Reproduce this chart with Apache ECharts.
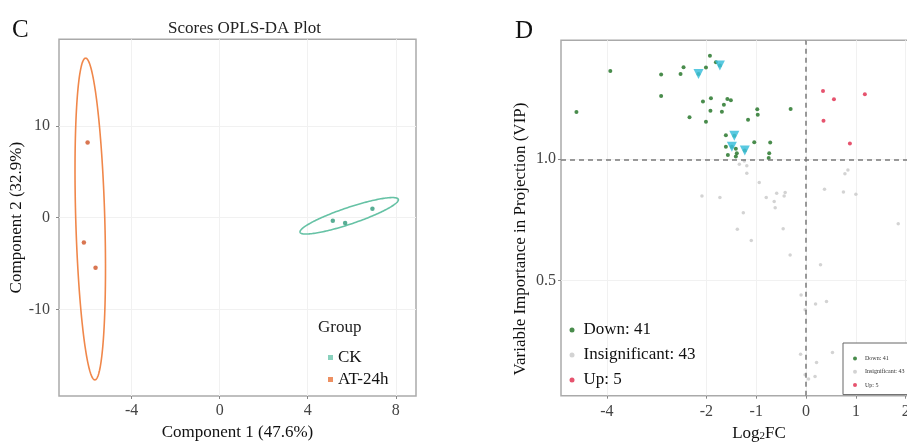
<!DOCTYPE html>
<html><head><meta charset="utf-8">
<script src="https://cdn.jsdelivr.net/npm/echarts@6/dist/echarts.min.js"></script>
<style>html,body{margin:0;padding:0;background:#fff}#c{width:907px;height:443px}</style>
</head><body><div id="c"></div>
<script>
// ---------- Panel C: Scores OPLS-DA ----------
const ckX = [5.14, 5.70, 6.94];
const ckY = [-0.33, -0.58, 0.98];
const atX = [-6.00, -6.17, -5.64];
const atY = [8.2, -2.7, -5.46];
// confidence ellipses: centre (x,y), conjugate semi-axis A (x,y), conjugate semi-axis B (x,y)
const ckEllipse = [5.885, 0.2, 2.235, 1.75, 0, 0.95];
const atEllipse = [-5.88, -0.15, -0.21, 17.55, 0.66, 0];
const cXTicks = [-4, 0, 4, 8];
const cYTicks = [-10, 0, 10];

// ---------- Panel D: VIP vs Log2FC ----------
const downX = [-4.61,-3.93,-2.91,-2.91,-2.52,-2.46,-2.01,-1.93,-1.81,-2.34,-2.07,-1.91,-1.92,-2.01,-1.65,-1.69,-1.58,-1.51,-1.165,-0.98,-0.97,-1.61,-1.04,-0.72,-1.61,-1.57,-1.41,-1.39,-1.41,-0.74,-0.75,-0.31,-2.16,-1.73,-1.44,-1.49,-1.23];
const downY = [1.195,1.364,1.349,1.261,1.351,1.379,1.378,1.426,1.400,1.173,1.238,1.251,1.200,1.154,1.224,1.196,1.248,1.243,1.163,1.206,1.183,1.099,1.070,1.069,1.051,1.018,1.043,1.025,1.011,1.025,1.005,1.207,1.351,1.386,1.097,1.052,1.036];
const insigX = [-1.34,-1.24,-1.19,-1.19,-0.94,-2.09,-1.73,-0.80,-0.59,-0.42,-0.44,-0.64,-0.62,-1.26,-1.38,-1.10,-0.46,-0.32,0.29,-0.10,0.19,0.41,-0.02,0.53,-0.11,0.21,-0.02,0.05,0.18,0.37,0.75,1.00,0.78,0.84,1.85];
const insigY = [0.979,0.993,0.973,0.942,0.904,0.849,0.842,0.842,0.860,0.863,0.849,0.826,0.800,0.780,0.712,0.665,0.714,0.606,0.565,0.441,0.404,0.414,0.380,0.204,0.197,0.163,0.112,0.095,0.105,0.876,0.865,0.856,0.940,0.956,0.734];
const upX = [0.34, 0.56, 1.18, 0.35, 0.88];
const upY = [1.281, 1.247, 1.268, 1.159, 1.065];
const markedX = [-2.16, -1.73, -1.44, -1.49, -1.23];
const markedY = [1.351, 1.386, 1.097, 1.052, 1.036];
const groupCounts = {Down: 41, Insignificant: 43, Up: 5};
const dXTicks = [-4, -2, -1, 0, 1, 2];
const dYTicks = [0.5, 1.0];
const fcThreshold = 0, vipThreshold = 1.0;

const zip = (xs, ys) => xs.map((x, i) => [x, ys[i]]);
const SERIF = '"Liberation Serif", "Times New Roman", serif';

function ellipseRenderer(color) {
  return function (params, api) {
    const cx = api.value(0), cy = api.value(1), ax = api.value(2), ay = api.value(3), bx = api.value(4), by = api.value(5);
    const pts = [];
    for (let i = 0; i <= 180; i++) {
      const t = i / 180 * 2 * Math.PI;
      pts.push(api.coord([cx + ax * Math.cos(t) + bx * Math.sin(t), cy + ay * Math.cos(t) + by * Math.sin(t)]));
    }
    return {type: 'polyline', shape: {points: pts}, style: {fill: 'none', stroke: color, lineWidth: 1.6}};
  };
}

const tickLabel = {fontFamily: SERIF, fontSize: 16, color: '#444'};
const nameStyle = {fontFamily: SERIF, fontSize: 17, color: '#111'};
const gridLine = {show: true, lineStyle: {color: '#f1f1f1', width: 1}};
const noLine = {show: false, onZero: false};

const chart = echarts.init(document.getElementById('c'), null, {renderer: 'canvas'});
chart.setOption({
  backgroundColor: '#fff',
  animation: false,
  graphic: [
    {type: 'text', left: 12, top: 18, style: {text: 'C', font: '25px ' + SERIF, fill: '#111'}},
    {type: 'text', left: 515, top: 19, style: {text: 'D', font: '25px ' + SERIF, fill: '#111'}},
    {type: 'text', left: 318, top: 319, style: {text: 'Group', font: '17px ' + SERIF, fill: '#222'}}
  ],
  title: [{
    text: 'Scores OPLS-DA Plot', left: 239.5, top: 15, textAlign: 'center',
    textStyle: {fontFamily: SERIF, fontSize: 17, fontWeight: 'normal', color: '#222'}
  }],
  grid: [
    {left: 59, top: 39.3, width: 357, height: 356.7, show: true, borderColor: '#aaa', borderWidth: 1.5, backgroundColor: 'transparent', outerBoundsMode: 'none', containLabel: false},
    {left: 561, top: 40.3, width: 396, height: 355.4, show: true, borderColor: '#aaa', borderWidth: 1.5, backgroundColor: 'transparent', outerBoundsMode: 'none', containLabel: false}
  ],
  xAxis: [
    {gridIndex: 0, type: 'value', min: -7.3, max: 8.92,
     name: 'Component 1 (47.6%)', nameLocation: 'middle', nameGap: 27, nameTextStyle: nameStyle,
     axisLine: noLine,
     axisTick: {show: true, length: 3, customValues: cXTicks, lineStyle: {color: '#888'}},
     axisLabel: {customValues: cXTicks, margin: 7, ...tickLabel},
     splitLine: gridLine},
    {gridIndex: 1, type: 'value', min: -4.92, max: 3.03,
     name: '{a|Log}{s|2}{a|FC}', nameLocation: 'middle', nameGap: 27,
     nameTextStyle: {rich: {a: {fontFamily: SERIF, fontSize: 17, color: '#111'}, s: {fontFamily: SERIF, fontSize: 11, color: '#111', verticalAlign: 'bottom', lineHeight: 11}}},
     axisLine: noLine,
     axisTick: {show: true, length: 3, customValues: dXTicks, lineStyle: {color: '#888'}},
     axisLabel: {customValues: dXTicks, margin: 8, ...tickLabel},
     splitLine: gridLine}
  ],
  yAxis: [
    {gridIndex: 0, type: 'value', min: -19.45, max: 19.45,
     name: 'Component 2 (32.9%)', nameLocation: 'middle', nameGap: 34, nameTextStyle: nameStyle,
     axisLine: noLine,
     axisTick: {show: true, length: 3, customValues: cYTicks, lineStyle: {color: '#888'}},
     axisLabel: {customValues: cYTicks, margin: 9, ...tickLabel},
     splitLine: gridLine},
    {gridIndex: 1, type: 'value', min: 0.026, max: 1.49,
     name: 'Variable Importance in Projection (VIP)', nameLocation: 'middle', nameGap: 32,
     nameTextStyle: {...nameStyle, padding: [0, 42, 0, 0]},
     axisLine: noLine,
     axisTick: {show: true, length: 3, customValues: dYTicks, lineStyle: {color: '#888'}},
     axisLabel: {customValues: dYTicks, margin: 5, formatter: v => v.toFixed(1), ...tickLabel},
     splitLine: gridLine}
  ],
  legend: [
    {data: [{name: 'CK', itemStyle: {color: '#6cc5ac'}}, {name: 'AT-24h', itemStyle: {color: '#e8743b'}}],
     orient: 'vertical', left: 328, top: 347.5, icon: 'rect', itemWidth: 5, itemHeight: 5, itemGap: 2,
     selectedMode: false, padding: 0,
     textStyle: {fontFamily: SERIF, fontSize: 17, lineHeight: 20, color: '#111'}},
    {data: ['Down', 'Insignificant', 'Up'],
     formatter: n => n + ': ' + groupCounts[n],
     orient: 'vertical', left: 569.5, top: 319, icon: 'circle', itemWidth: 5, itemHeight: 5, itemGap: 3,
     selectedMode: false, padding: 0,
     textStyle: {fontFamily: SERIF, fontSize: 17, lineHeight: 22, color: '#111', padding: [0, 0, 0, 4]}},
    {data: ['Down', 'Insignificant', 'Up'],
     formatter: n => n + ': ' + groupCounts[n],
     orient: 'vertical', left: 843, top: 343, icon: 'circle', itemWidth: 4, itemHeight: 4, itemGap: 6.3,
     selectedMode: false, padding: [12, 45, 6, 10], borderColor: '#666', borderWidth: 1, backgroundColor: '#fff',
     textStyle: {fontFamily: SERIF, fontSize: 6, lineHeight: 7, color: '#333', padding: [0, 0, 0, 3]}}
  ],
  series: [
    {name: 'CK ellipse', type: 'custom', xAxisIndex: 0, yAxisIndex: 0, renderItem: ellipseRenderer('#66c2a5'), data: [ckEllipse], silent: true, clip: false},
    {name: 'AT-24h ellipse', type: 'custom', xAxisIndex: 0, yAxisIndex: 0, renderItem: ellipseRenderer('#f0874a'), data: [atEllipse], silent: true, clip: false},
    {name: 'CK', type: 'scatter', xAxisIndex: 0, yAxisIndex: 0, data: zip(ckX, ckY), symbolSize: 4.5, itemStyle: {color: '#2f9a7a'}},
    {name: 'AT-24h', type: 'scatter', xAxisIndex: 0, yAxisIndex: 0, data: zip(atX, atY), symbolSize: 4.5, itemStyle: {color: '#cf5426'}},
    {name: 'Insignificant', type: 'scatter', xAxisIndex: 1, yAxisIndex: 1, data: zip(insigX, insigY), symbolSize: 3.5,
     itemStyle: {color: '#c8c8c8'},
     markLine: {silent: true, symbol: 'none', label: {show: false},
       lineStyle: {type: [5, 4], color: '#7a7a7a', width: 1.5},
       data: [{xAxis: fcThreshold}, {yAxis: vipThreshold}]}},
    {name: 'Down', type: 'scatter', xAxisIndex: 1, yAxisIndex: 1, data: zip(downX, downY), symbolSize: 4, itemStyle: {color: '#1b6f1f'}},
    {name: 'Up', type: 'scatter', xAxisIndex: 1, yAxisIndex: 1, data: zip(upX, upY), symbolSize: 4, itemStyle: {color: '#e0284a'}},
    {name: 'Marked', type: 'scatter', xAxisIndex: 1, yAxisIndex: 1, data: zip(markedX, markedY), symbol: 'triangle', symbolRotate: 180, symbolSize: 10,
     itemStyle: {color: '#3cbfdc', opacity: 0.85}}
  ]
});
</script></body></html>
